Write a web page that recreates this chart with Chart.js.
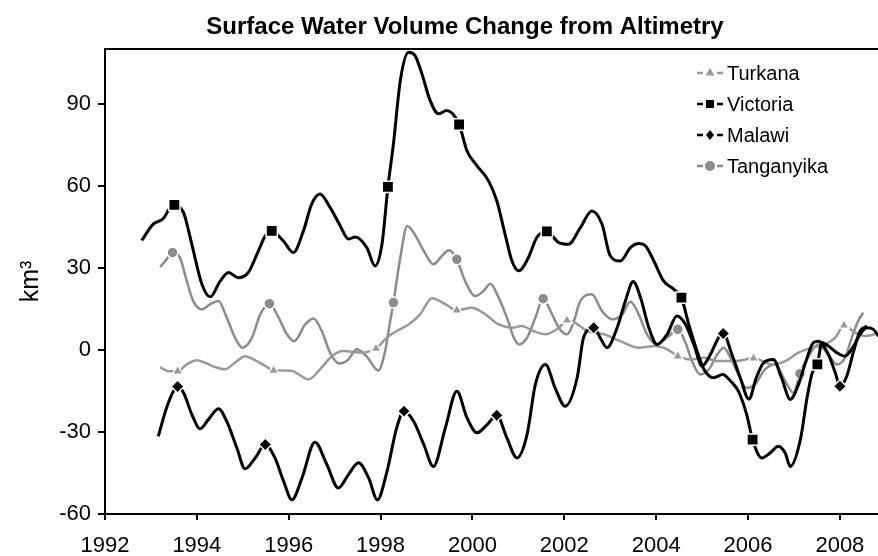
<!DOCTYPE html>
<html>
<head>
<meta charset="utf-8">
<title>Surface Water Volume Change from Altimetry</title>
<script src="https://cdn.jsdelivr.net/npm/chart.js@4"></script>
<style>
  html, body { margin: 0; padding: 0; background: #fff; }
  #chart-box { width: 878px; height: 556px; }
</style>
</head>
<body>
<div id="chart-box"><canvas id="water-chart" width="878" height="556"></canvas></div>
<script>
// lake-volume.js

const chartTitle = "Surface Water Volume Change from Altimetry";
const yAxisTitle = "km³";
const xTickYears = [1992, 1994, 1996, 1998, 2000, 2002, 2004, 2006, 2008];
const yTickValues = [-60, -30, 0, 30, 60, 90];

// decimal year / km3
const turkanaYears = [1993.20, 1993.38, 1993.58, 1993.78, 1994.00, 1994.18, 1994.40, 1994.61, 1994.83, 1995.05, 1995.27, 1995.49, 1995.67, 1996.05, 1996.43, 1996.68, 1996.94, 1997.19, 1997.56, 1997.90, 1998.14, 1998.35, 1998.61, 1998.86, 1999.12, 1999.41, 1999.66, 1999.99, 2000.28, 2000.57, 2000.86, 2001.08, 2001.30, 2001.59, 2001.88, 2002.06, 2002.24, 2002.49, 2002.86, 2003.22, 2003.62, 2003.95, 2004.24, 2004.47, 2004.75, 2005.04, 2005.33, 2005.72, 2006.12, 2006.52, 2006.81, 2007.10, 2007.39, 2007.68, 2007.90, 2008.09, 2008.33, 2008.55, 2008.77];
const turkanaValues = [-6.3, -7.8, -7.8, -5.3, -3.8, -4.7, -6.3, -7.1, -4.7, -2.3, -3.8, -5.9, -7.5, -7.6, -10.8, -7.1, -2.3, -0.4, -1.0, 0.5, 4.5, 6.9, 9.3, 13.0, 18.9, 16.7, 14.5, 15.4, 13.0, 9.3, 8.1, 8.7, 7.1, 5.7, 8.1, 10.8, 9.9, 6.9, 5.7, 3.2, 0.8, 1.4, 0.2, -2.3, -3.5, -2.9, -4.1, -4.1, -3.1, -5.3, -4.1, -1.0, 0.8, 2.0, 4.5, 9.0, 6.3, 5.1, 5.7];
const turkanaMarkers = [1993.58, 1995.67, 1997.90, 1999.66, 2002.06, 2004.47, 2006.12, 2008.09];

const victoriaYears = [1992.80, 1993.05, 1993.27, 1993.40, 1993.51, 1993.71, 1993.89, 1994.11, 1994.29, 1994.51, 1994.69, 1994.90, 1995.12, 1995.34, 1995.49, 1995.63, 1995.88, 1996.10, 1996.32, 1996.50, 1996.68, 1996.90, 1997.12, 1997.30, 1997.45, 1997.70, 1997.88, 1998.03, 1998.16, 1998.28, 1998.43, 1998.61, 1998.75, 1998.90, 1999.08, 1999.26, 1999.44, 1999.71, 1999.88, 2000.10, 2000.35, 2000.53, 2000.71, 2000.86, 2001.01, 2001.22, 2001.40, 2001.62, 2001.88, 2002.09, 2002.35, 2002.60, 2002.82, 2003.00, 2003.22, 2003.44, 2003.62, 2003.77, 2003.95, 2004.16, 2004.38, 2004.55, 2004.71, 2004.89, 2005.04, 2005.25, 2005.45, 2005.62, 2005.79, 2005.97, 2006.10, 2006.30, 2006.48, 2006.66, 2006.81, 2006.92, 2007.14, 2007.29, 2007.40, 2007.51, 2007.61, 2007.75, 2007.93, 2008.11, 2008.30, 2008.44, 2008.59, 2008.73, 2008.84];
const victoriaValues = [40.0, 46.0, 48.0, 51.5, 53.0, 50.2, 38.6, 24.0, 19.4, 25.2, 28.3, 26.4, 28.3, 36.2, 41.7, 43.5, 39.9, 35.6, 43.5, 53.3, 57.0, 52.1, 45.4, 40.5, 41.3, 37.4, 30.7, 38.6, 59.6, 75.3, 98.5, 108.8, 107.6, 100.9, 91.1, 86.3, 87.5, 82.4, 72.8, 67.3, 61.8, 54.5, 42.3, 32.5, 28.9, 33.8, 41.1, 43.3, 39.2, 38.6, 44.7, 50.8, 46.0, 34.4, 32.5, 37.4, 38.9, 38.0, 32.5, 25.2, 22.2, 19.1, 9.3, -0.4, -7.1, -10.2, -9.0, -11.4, -15.1, -23.6, -32.8, -39.5, -37.7, -35.2, -37.7, -42.6, -32.8, -17.0, -8.3, -5.3, 2.7, 1.4, -1.0, -2.3, 1.4, 5.7, 8.1, 7.5, 5.0];
const victoriaMarkers = [1993.51, 1995.63, 1998.16, 1999.71, 2001.62, 2004.55, 2006.10, 2007.51];

const malawiYears = [1993.16, 1993.34, 1993.49, 1993.58, 1993.71, 1993.89, 1994.07, 1994.25, 1994.47, 1994.65, 1994.87, 1995.05, 1995.27, 1995.49, 1995.70, 1995.89, 1996.07, 1996.29, 1996.57, 1996.83, 1997.08, 1997.30, 1997.52, 1997.74, 1997.93, 1998.14, 1998.35, 1998.51, 1998.72, 1998.94, 1999.15, 1999.41, 1999.66, 1999.88, 2000.10, 2000.32, 2000.53, 2000.75, 2000.97, 2001.19, 2001.37, 2001.59, 2001.80, 2002.02, 2002.28, 2002.42, 2002.64, 2002.78, 2002.93, 2003.15, 2003.33, 2003.50, 2003.66, 2003.84, 2004.02, 2004.24, 2004.45, 2004.64, 2004.82, 2005.00, 2005.18, 2005.36, 2005.46, 2005.65, 2005.83, 2006.02, 2006.18, 2006.34, 2006.55, 2006.73, 2006.92, 2007.10, 2007.24, 2007.42, 2007.53, 2007.75, 2007.90, 2008.00, 2008.15, 2008.30, 2008.44, 2008.59];
const malawiValues = [-31.6, -21.2, -15.1, -13.4, -15.7, -23.6, -28.8, -25.5, -21.5, -26.1, -35.8, -43.5, -39.5, -34.6, -39.5, -48.1, -54.8, -46.8, -33.8, -41.9, -50.5, -45.6, -41.3, -46.8, -54.8, -44.4, -28.5, -22.4, -26.1, -34.6, -42.6, -28.5, -15.1, -24.8, -30.3, -27.3, -23.9, -32.2, -39.5, -30.9, -12.6, -5.3, -13.9, -20.6, -10.2, 4.5, 8.1, 4.5, 0.8, 8.1, 17.9, 25.0, 19.1, 8.1, 2.0, 5.7, 12.4, 9.3, 2.0, -5.9, -1.7, 4.5, 6.0, -1.7, -10.2, -18.0, -10.2, -4.7, -3.5, -10.2, -18.1, -12.6, -5.3, 2.6, 3.2, -1.7, -8.4, -13.3, -9.6, -0.4, 6.9, 8.7];
const malawiMarkers = [1993.58, 1995.49, 1998.51, 2000.53, 2002.64, 2005.46, 2008.00];

const tanganyikaYears = [1993.20, 1993.34, 1993.47, 1993.63, 1993.78, 1993.92, 1994.11, 1994.29, 1994.47, 1994.65, 1994.83, 1994.99, 1995.20, 1995.38, 1995.58, 1995.78, 1995.96, 1996.12, 1996.36, 1996.54, 1996.72, 1996.90, 1997.10, 1997.30, 1997.48, 1997.70, 1997.95, 1998.10, 1998.21, 1998.28, 1998.43, 1998.58, 1998.77, 1998.94, 1999.15, 1999.34, 1999.48, 1999.66, 1999.84, 2000.06, 2000.24, 2000.39, 2000.57, 2000.75, 2000.90, 2001.01, 2001.19, 2001.37, 2001.54, 2001.70, 2001.88, 2002.06, 2002.20, 2002.35, 2002.60, 2002.82, 2003.04, 2003.26, 2003.44, 2003.62, 2003.80, 2004.02, 2004.24, 2004.47, 2004.64, 2004.78, 2004.96, 2005.15, 2005.33, 2005.47, 2005.62, 2005.79, 2005.97, 2006.15, 2006.37, 2006.59, 2006.81, 2006.99, 2007.13, 2007.32, 2007.53, 2007.75, 2007.93, 2008.11, 2008.26, 2008.40, 2008.51];
const tanganyikaValues = [30.3, 33.1, 35.6, 33.8, 25.2, 17.9, 14.8, 16.7, 17.9, 11.8, 4.5, 0.8, 4.5, 13.0, 16.9, 11.8, 5.7, 3.2, 9.3, 11.5, 6.9, -1.0, -5.0, -3.5, 0.2, -2.5, -7.5, -0.4, 10.6, 17.3, 33.8, 45.3, 41.5, 36.2, 31.3, 34.4, 36.4, 33.1, 25.2, 19.7, 21.5, 24.2, 19.1, 11.8, 4.5, 2.0, 4.5, 11.8, 18.7, 14.2, 8.1, 5.7, 10.0, 17.9, 20.3, 14.2, 11.2, 13.0, 17.6, 13.0, 5.7, 2.0, 4.5, 7.5, 2.6, -4.1, -9.0, -7.1, -1.7, 0.8, -2.9, -9.0, -13.9, -12.6, -7.1, -5.3, -11.4, -15.7, -8.7, -2.3, 2.0, -1.7, -5.3, -2.9, 4.5, 10.6, 13.6];
const tanganyikaMarkers = [1993.47, 1995.58, 1998.28, 1999.66, 2001.54, 2004.47, 2007.13];

function toPoints(years, values) {
  return years.map((year, i) => ({ x: year, y: values[i] }));
}

function markerSizes(years, markers, radius) {
  return years.map(year => (markers.includes(year) ? radius : 0));
}

function lakeDataset(label, years, values, markers, color, pointStyle, radius, width, order) {
  return {
    label: label,
    data: toPoints(years, values),
    borderColor: color,
    backgroundColor: color,
    borderWidth: width,
    pointStyle: pointStyle,
    pointRadius: markerSizes(years, markers, radius),
    pointBorderColor: "#fff",
    pointBorderWidth: 1.5,
    pointBackgroundColor: color,
    cubicInterpolationMode: "monotone",
    order: order,
  };
}

const datasets = [
  lakeDataset("Turkana", turkanaYears, turkanaValues, turkanaMarkers, "#9a9a9a", "triangle", 6, 2.5, 2),
  lakeDataset("Victoria", victoriaYears, victoriaValues, victoriaMarkers, "#000", "rect", 8, 3, 0),
  lakeDataset("Malawi", malawiYears, malawiValues, malawiMarkers, "#000", "rectRot", 6.5, 3, 1),
  lakeDataset("Tanganyika", tanganyikaYears, tanganyikaValues, tanganyikaMarkers, "#8c8c8c", "circle", 5.5, 2.5, 3),
];

function drawMarker(ctx, style, x, y, r, color) {
  ctx.beginPath();
  if (style === "triangle") {
    ctx.moveTo(x, y - r);
    ctx.lineTo(x + r * 0.87, y + r * 0.5);
    ctx.lineTo(x - r * 0.87, y + r * 0.5);
    ctx.closePath();
  } else if (style === "rect") {
    ctx.rect(x - r * 0.8, y - r * 0.8, r * 1.6, r * 1.6);
  } else if (style === "rectRot") {
    ctx.moveTo(x, y - r);
    ctx.lineTo(x + r * 0.8, y);
    ctx.lineTo(x, y + r);
    ctx.lineTo(x - r * 0.8, y);
    ctx.closePath();
  } else {
    ctx.arc(x, y, r, 0, Math.PI * 2);
  }
  ctx.fillStyle = color;
  ctx.fill();
}

// title, top frame line and the "-▲-" style legend
const framePlugin = {
  id: "frame",
  afterDraw(chart) {
    const ctx = chart.ctx;
    const area = chart.chartArea;
    ctx.save();
    ctx.strokeStyle = "#000";
    ctx.lineWidth = 2;
    ctx.beginPath();
    ctx.moveTo(area.left, area.top);
    ctx.lineTo(area.right, area.top);
    ctx.stroke();

    ctx.fillStyle = "#000";
    ctx.font = "bold 24px 'Liberation Sans', Arial, sans-serif";
    ctx.textAlign = "center";
    ctx.textBaseline = "middle";
    ctx.fillText(chartTitle, 465, 27);

    ctx.font = "20px 'Liberation Sans', Arial, sans-serif";
    ctx.textAlign = "left";
    datasets.forEach((ds, i) => {
      const y = 73 + i * 31;
      ctx.strokeStyle = ds.borderColor;
      ctx.lineWidth = 2.5;
      ctx.beginPath();
      ctx.moveTo(697, y);
      ctx.lineTo(703, y);
      ctx.moveTo(717, y);
      ctx.lineTo(723, y);
      ctx.stroke();
      drawMarker(ctx, ds.pointStyle, 710, y, 5, ds.borderColor);
      ctx.fillStyle = "#000";
      ctx.fillText(ds.label, 727, y + 1);
    });
    ctx.restore();
  },
};

const tickFont = { family: "'Liberation Sans', Arial, sans-serif", size: 22 };

new Chart(document.getElementById("water-chart"), {
  type: "line",
  data: { datasets: datasets },
  plugins: [framePlugin],
  options: {
    responsive: false,
    devicePixelRatio: 1,
    animation: false,
    events: [],
    layout: { padding: { top: 49, left: 0, right: 0, bottom: 0 } },
    plugins: {
      legend: { display: false },
      tooltip: { enabled: false },
      title: { display: false },
    },
    scales: {
      x: {
        type: "linear",
        min: 1992,
        max: 2008.83,
        afterBuildTicks: axis => {
          axis.ticks = xTickYears.map(v => ({ value: v }));
        },
        afterFit: axis => {
          axis.height = 42;
        },
        ticks: {
          color: "#000",
          font: tickFont,
          padding: 13,
          maxRotation: 0,
          callback: v => String(v),
        },
        grid: { display: true, drawOnChartArea: false, drawTicks: true, tickLength: 6, color: "#000", lineWidth: 2 },
        border: { display: true, color: "#000", width: 2 },
      },
      y: {
        min: -60,
        max: 110,
        afterBuildTicks: axis => {
          axis.ticks = yTickValues.map(v => ({ value: v }));
        },
        afterFit: axis => {
          axis.width = 105;
        },
        ticks: {
          color: "#000",
          font: tickFont,
          padding: 7,
          callback: v => String(v),
        },
        grid: { display: true, drawOnChartArea: false, drawTicks: true, tickLength: 7, color: "#000", lineWidth: 2 },
        border: { display: true, color: "#000", width: 2 },
        title: {
          display: true,
          text: yAxisTitle,
          color: "#000",
          font: { family: "'Liberation Sans', Arial, sans-serif", size: 25 },
          padding: { top: 16, bottom: 0 },
        },
      },
    },
  },
});
</script>
</body>
</html>
